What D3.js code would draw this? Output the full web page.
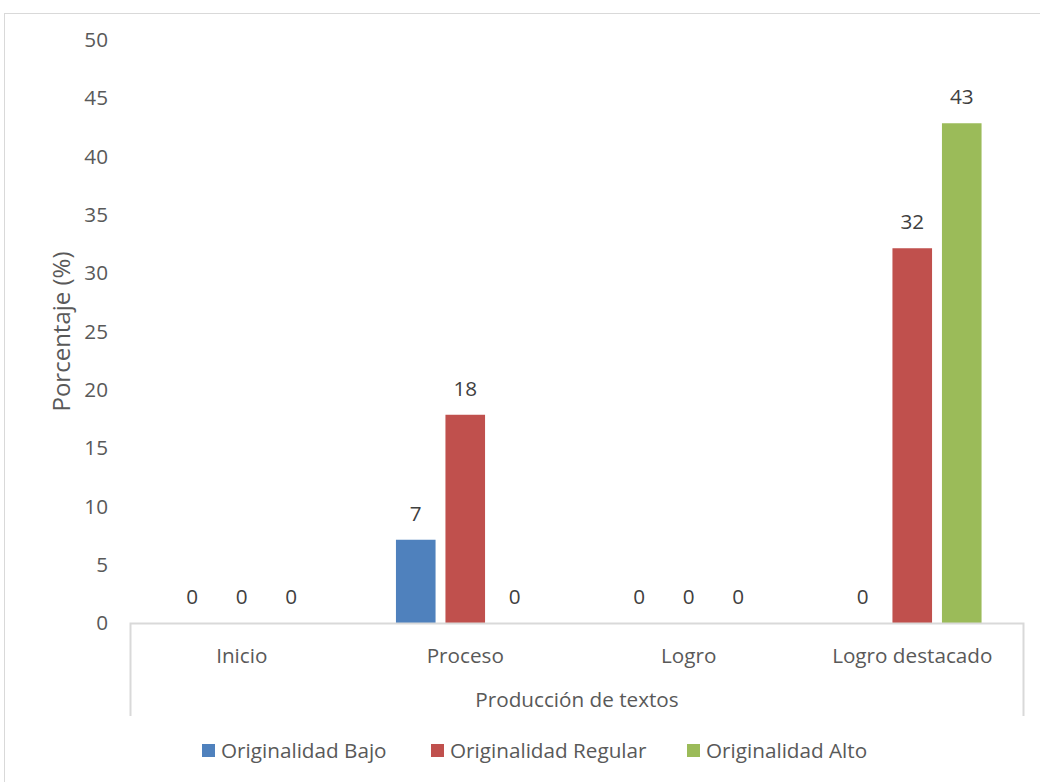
<!DOCTYPE html>
<html>
<head>
<meta charset="utf-8">
<script src="https://cdn.jsdelivr.net/npm/d3@7"></script>
<style>
  body { margin: 0; background: #fff; }
  text { font-family: "Open Sans", "Noto Sans", sans-serif; fill: #595959; }
</style>
</head>
<body>
<div id="wrapper"></div>
<script>
const categories = ["Inicio", "Proceso", "Logro", "Logro destacado"]
const seriesNames = ["Originalidad Bajo", "Originalidad Regular", "Originalidad Alto"]
const bajo = [0, 7.14, 0, 0]
const regular = [0, 17.86, 0, 32.14]
const alto = [0, 0, 0, 42.86]
const yTicks = [0, 5, 10, 15, 20, 25, 30, 35, 40, 45, 50]
const colors = ["#4f81bd", "#c0504d", "#9bbb59"]

const seriesValues = [bajo, regular, alto]
const dataset = categories.map((c, i) => ({
    category: c,
    values: seriesNames.map((s, j) => ({ series: s, value: seriesValues[j][i] }))
}))

let dimensions = {
    width: 1040,
    height: 782,
    margin: { top: 40, right: 16, bottom: 159, left: 130 },
}
dimensions.boundedWidth = dimensions.width - dimensions.margin.left - dimensions.margin.right
dimensions.boundedHeight = dimensions.height - dimensions.margin.top - dimensions.margin.bottom
const fontSize = "20.7px"

const wrapper = d3.select("#wrapper")
    .append("svg")
        .attr("width", dimensions.width)
        .attr("height", dimensions.height)

// outer chart frame
wrapper.append("rect")
    .attr("x", 4.5).attr("y", 13.5)
    .attr("width", 1040).attr("height", 800)
    .attr("fill", "none").attr("stroke", "#d9d9d9")

const bounds = wrapper.append("g")
    .attr("transform", `translate(${dimensions.margin.left},${dimensions.margin.top})`)

const yScale = d3.scaleLinear()
    .domain([0, 50])
    .range([dimensions.boundedHeight, 0])

const xScale = d3.scaleBand()
    .domain(categories)
    .range([0, dimensions.boundedWidth])

const groupWidth = 138.6
const innerScale = d3.scaleBand()
    .domain(seriesNames)
    .range([0, groupWidth])
    .paddingInner(0.2)

const groupOffset = (xScale.bandwidth() - groupWidth) / 2

// y axis labels (no line)
const yAxis = bounds.append("g")
    .call(d3.axisLeft(yScale).tickValues(yTicks).tickSize(0).tickPadding(22))
yAxis.select(".domain").remove()
yAxis.selectAll("text")
    .style("font-size", fontSize)
    .attr("fill", "#595959")

// bars
const groups = bounds.selectAll(".group")
    .data(dataset)
    .join("g")
        .attr("transform", d => `translate(${xScale(d.category) + groupOffset},0)`)

groups.selectAll("rect")
    .data(d => d.values)
    .join("rect")
        .attr("x", d => innerScale(d.series))
        .attr("width", innerScale.bandwidth())
        .attr("y", d => yScale(d.value))
        .attr("height", d => dimensions.boundedHeight - yScale(d.value))
        .attr("fill", (d, i) => colors[i])

groups.selectAll(".label")
    .data(d => d.values)
    .join("text")
        .attr("class", "label")
        .attr("x", d => innerScale(d.series) + innerScale.bandwidth() / 2)
        .attr("y", d => yScale(d.value) - 19)
        .attr("text-anchor", "middle")
        .style("font-size", fontSize)
        .style("fill", "#404040")
        .text(d => d3.format(".0f")(d.value))

// category axis box
const axisDepth = 93
bounds.append("path")
    .attr("d", `M0.5,${dimensions.boundedHeight + axisDepth}V${dimensions.boundedHeight + 0.5}H${dimensions.boundedWidth - 0.5}V${dimensions.boundedHeight + axisDepth}`)
    .attr("fill", "none")
    .attr("stroke", "#d9d9d9")
    .attr("stroke-width", 2)

const xAxis = bounds.append("g")
    .attr("transform", `translate(0,${dimensions.boundedHeight})`)
    .call(d3.axisBottom(xScale).tickSize(0).tickPadding(25))
xAxis.select(".domain").remove()
xAxis.selectAll("text")
    .style("font-size", fontSize)
    .attr("fill", "#595959")

// axis titles
bounds.append("text")
    .attr("x", dimensions.boundedWidth / 2)
    .attr("y", dimensions.boundedHeight + 84)
    .attr("text-anchor", "middle")
    .style("font-size", fontSize)
    .text("Producción de textos")

bounds.append("text")
    .attr("transform", `translate(-68,${dimensions.boundedHeight / 2}) rotate(-90)`)
    .attr("text-anchor", "middle")
    .attr("dy", "0.35em")
    .style("font-size", "24px")
    .text("Porcentaje (%)")

// legend
const legendX = [202, 431, 687]
const legend = wrapper.append("g")
    .selectAll("g")
    .data(seriesNames)
    .join("g")
        .attr("transform", (d, i) => `translate(${legendX[i]},744)`)
legend.append("rect")
    .attr("width", 13).attr("height", 13)
    .attr("fill", (d, i) => colors[i])
legend.append("text")
    .attr("x", 19)
    .attr("y", 7)
    .attr("dy", "0.35em")
    .style("font-size", fontSize)
    .text(d => d)
</script>
</body>
</html>
